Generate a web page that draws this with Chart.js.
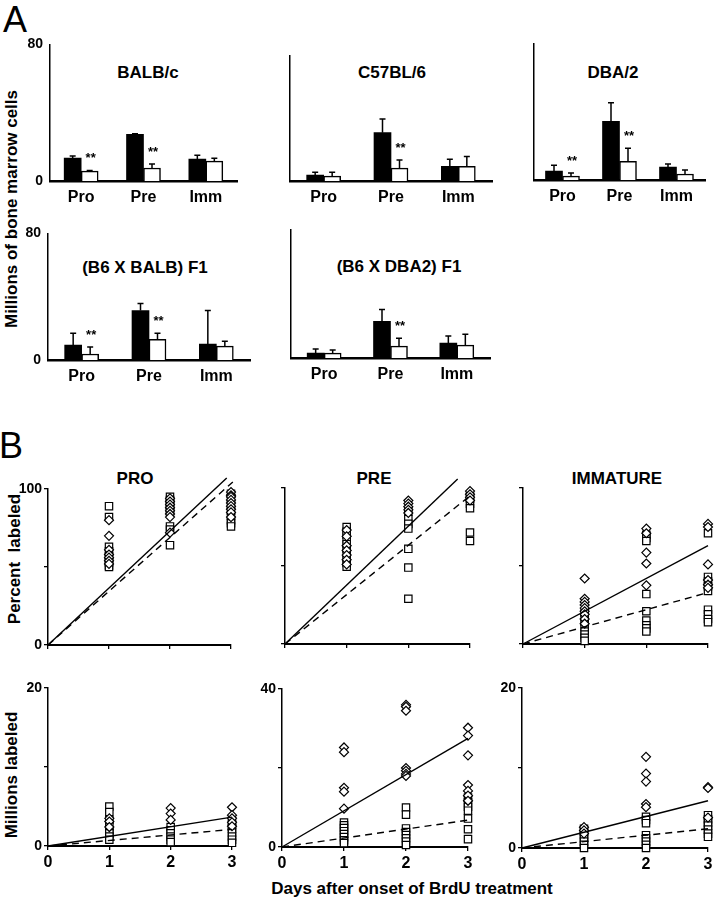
<!DOCTYPE html>
<html>
<head>
<meta charset="utf-8">
<script src="https://cdn.jsdelivr.net/npm/chart.js@4"></script>
<style>
body { margin:0; background:#fff; width:714px; height:900px; position:relative; overflow:hidden; font-family: Arial, "Liberation Sans", sans-serif; color:#000; }
canvas { position:absolute; }
.t { position:absolute; font-weight:bold; font-size:17px; line-height:1; white-space:nowrap; transform:translate(-50%,-50%); }
.vt { position:absolute; font-weight:bold; font-size:17px; line-height:1; white-space:nowrap; transform:translate(-50%,-50%) rotate(-90deg); }
.big { position:absolute; font-size:36px; line-height:1; }
</style>
</head>
<body>
<div class="big" style="left:3px;top:2px">A</div>
<div class="big" style="left:-1px;top:428px">B</div>

<div class="vt" style="left:11px;top:209px">Millions of bone marrow cells</div>
<div class="vt" style="left:14px;top:559px">Percent&nbsp; labeled</div>
<div class="vt" style="left:11px;top:775px">Millions labeled</div>
<div class="t" style="left:412px;top:888px">Days after onset of BrdU treatment</div>

<div class="t" style="left:148px;top:72px">BALB/c</div>
<div class="t" style="left:392px;top:72px">C57BL/6</div>
<div class="t" style="left:613px;top:72px">DBA/2</div>
<div class="t" style="left:145px;top:267px">(B6 X BALB) F1</div>
<div class="t" style="left:399px;top:266px">(B6 X DBA2) F1</div>
<div class="t" style="left:135px;top:478px">PRO</div>
<div class="t" style="left:374px;top:478px">PRE</div>
<div class="t" style="left:617px;top:478px">IMMATURE</div>

<canvas id="a1"></canvas>
<canvas id="a2"></canvas>
<canvas id="a3"></canvas>
<canvas id="a4"></canvas>
<canvas id="a5"></canvas>
<canvas id="b1"></canvas>
<canvas id="b2"></canvas>
<canvas id="b3"></canvas>
<canvas id="b4"></canvas>
<canvas id="b5"></canvas>
<canvas id="b6"></canvas>

<script>
// ---- panel A: millions of cells, black = first group, white = second group
const stages = ['Pro', 'Pre', 'Imm'];

const balbBlack = [13.4, 27.3, 12.8];
const balbBlackErr = [1.2, 0.3, 2.3];
const balbWhite = [5.8, 7.6, 11.6];
const balbWhiteErr = [0.4, 2.3, 1.7];
const balbStars = [0, 1];

const c57Black = [3.5, 28.5, 8.7];
const c57BlackErr = [1.7, 8.1, 4.1];
const c57White = [2.9, 7.6, 8.7];
const c57WhiteErr = [2.3, 4.7, 5.8];
const c57Stars = [1];

const dbaBlack = [5.2, 34.3, 7.6];
const dbaBlackErr = [3.5, 11, 1.7];
const dbaWhite = [2.3, 11, 3.5];
const dbaWhiteErr = [1.8, 7.6, 2.3];
const dbaStars = [0, 1];

const f1BalbBlack = [9.4, 31.3, 10];
const f1BalbBlackErr = [7.5, 4.4, 21.3];
const f1BalbWhite = [3.8, 13.1, 8.8];
const f1BalbWhiteErr = [4.4, 3.8, 3.1];
const f1BalbStars = [0, 1];

const f1DbaBlack = [3.1, 23.1, 9.4];
const f1DbaBlackErr = [2.5, 7.5, 4.4];
const f1DbaWhite = [3.1, 7.5, 8.1];
const f1DbaWhiteErr = [1.9, 5, 6.9];
const f1DbaStars = [1];

// ---- panel B: values per day (day 1, day 2, day 3), diamonds and squares
const days = [0, 1, 2, 3];

const proPctDia = [[80, 70, 61, 58, 56, 54, 52], [94, 92, 90, 88, 86, 84, 82, 72], [98, 96, 95, 93, 91, 89, 87, 85, 82]];
const proPctSq = [[89, 82, 63, 60, 57, 55, 53, 51, 50], [95, 93, 91, 89, 87, 85, 76, 74, 64], [97, 94, 90, 86, 83, 80, 78, 76]];
const proPctSolid = [2.93, 107];
const proPctDash = [3.03, 104.5];

const prePctDia = [[73, 69, 63, 60, 57, 54, 51], [92, 90, 88, 86, 84], [98, 96, 94, 92]];
const prePctSq = [[75, 72, 70, 67, 64, 61, 58, 55, 52, 49.5], [85, 80, 77, 74, 61, 49, 29], [95, 93, 90, 87, 71.5, 66]];
const prePctSolid = [2.8, 105.7];
const prePctDash = [3, 95];

const immPctDia = [[42, 29, 27, 25, 23, 21, 19, 16, 13], [74, 71, 58.6, 51.6, 37.6], [77, 75, 51, 41, 38, 36]];
const immPctSq = [[20, 17, 14, 11, 8, 6, 4, 2], [70, 68, 66, 32, 21, 15, 12, 10, 8], [71, 43, 40, 37, 34, 22, 19, 16, 14]];
const immPctSolid = [3, 63];
const immPctDash = [3, 33];

const proMilDia = [[3.5, 3.1, 2.4], [4.8, 4.1, 3.3], [4.9, 3.9, 3.5, 3.0, 2.5]];
const proMilSq = [[5.0, 4.3, 3.3, 2.5, 2.0, 1.6, 1.2, 0.8], [2.4, 2.0, 1.6, 1.2, 0.8, 0.5], [3.2, 2.7, 2.2, 1.7, 1.2, 0.8, 0.4]];
const proMilSolid = [3, 3.65];
const proMilDash = [3, 2.1];

const preMilDia = [[25.2, 24, 15, 14, 9.7], [36, 35.5, 34.5, 20, 19.3, 18.5, 18], [30.2, 28.2, 23.2, 15.7, 14.2, 13, 11.7]];
const preMilSq = [[6.2, 5.5, 4.8, 4, 3.3, 2.5, 1.7, 1], [10, 8.2, 4.7, 3.8, 3, 2.2, 1.4, 0.5], [12.5, 11.3, 10.2, 9.2, 7.2, 4.5, 2]];
const preMilSolid = [3, 27.5];
const preMilDash = [3, 6.8];

const immMilDia = [[2.6, 2.2, 1.8], [11.4, 9.3, 8.3, 5.5, 5.1], [7.6, 7.5, 3.8]];
const immMilSq = [[2.4, 2.0, 1.6, 1.2, 0.8, 0.4, 0], [3.9, 3.5, 3.1, 1.6, 1.2, 0.8, 0.4, 0], [4.1, 3.6, 3.2, 2.8, 2.3, 1.8, 1.4]];
const immMilSolid = [3, 5.9];
const immMilDash = [3, 2.4];

Chart.defaults.font.family = 'Arial, "Liberation Sans", sans-serif';
Chart.defaults.color = '#000';

const Y_W = 46, X_H = 30, PAD_T = 14, PAD_R = 12;

// error bars, upward only, drawn from each bar top
const errorBars = {
  id: 'errorBars',
  afterDatasetsDraw(chart) {
    const ctx = chart.ctx, y = chart.scales.y;
    chart.data.datasets.forEach((ds, i) => {
      if (!ds.errors) return;
      chart.getDatasetMeta(i).data.forEach((bar, j) => {
        const top = y.getPixelForValue(ds.data[j] + ds.errors[j]);
        ctx.save();
        ctx.strokeStyle = '#000';
        ctx.lineWidth = 1.5;
        ctx.beginPath();
        ctx.moveTo(bar.x, bar.y);
        ctx.lineTo(bar.x, top);
        ctx.moveTo(bar.x - 3, top);
        ctx.lineTo(bar.x + 3, top);
        ctx.stroke();
        ctx.restore();
      });
    });
  }
};

// "**" over the white bars
const stars = {
  id: 'stars',
  afterDatasetsDraw(chart) {
    const ctx = chart.ctx, y = chart.scales.y;
    chart.data.datasets.forEach((ds, i) => {
      if (!ds.stars) return;
      const meta = chart.getDatasetMeta(i);
      ctx.save();
      ctx.font = 'bold 13px Arial, "Liberation Sans", sans-serif';
      ctx.textAlign = 'center';
      ctx.textBaseline = 'alphabetic';
      ctx.fillStyle = '#000';
      ds.stars.forEach(j => {
        const top = y.getPixelForValue(ds.data[j] + ds.errors[j]);
        ctx.fillText('**', meta.data[j].x + 1, top - 8);
      });
      ctx.restore();
    });
  }
};

function place(canvas, chart, box) {
  canvas.style.left = (box.x - chart.chartArea.left) + 'px';
  canvas.style.top = (box.y - chart.chartArea.top) + 'px';
}

function barChart(id, box, max, showY, black, blackErr, white, whiteErr, starIdx) {
  const canvas = document.getElementById(id);
  canvas.width = Y_W + box.w + PAD_R;
  canvas.height = PAD_T + box.h + X_H;
  const chart = new Chart(canvas, {
    type: 'bar',
    data: {
      labels: stages,
      datasets: [
        { data: black, errors: blackErr, backgroundColor: '#000', borderWidth: 0, barThickness: 17 },
        { data: white, errors: whiteErr, stars: starIdx, backgroundColor: '#fff', borderColor: '#000', borderWidth: 1.5, barThickness: 17 }
      ]
    },
    options: {
      responsive: false,
      animation: false,
      layout: { padding: { top: PAD_T, right: PAD_R, left: 0, bottom: 0 } },
      plugins: { legend: { display: false }, tooltip: { enabled: false } },
      scales: {
        x: {
          grid: { display: false, drawTicks: false },
          border: { color: '#000', width: 2.5 },
          ticks: { font: { size: 16, weight: 'bold' }, padding: 7 },
          afterFit: s => { s.height = X_H; }
        },
        y: {
          min: 0, max: max,
          grid: { display: false, drawTicks: false },
          border: { color: '#000', width: 1.5 },
          ticks: { stepSize: max, font: { size: 14, weight: 'bold' }, padding: 7,
                   callback: v => showY ? v : '' },
          afterFit: s => { s.width = Y_W; }
        }
      }
    },
    plugins: [errorBars, stars]
  });
  place(canvas, chart, box);
}

function toPoints(perDay) {
  const out = [];
  perDay.forEach((vals, i) => vals.forEach(v => out.push({ x: days[i + 1], y: v })));
  return out;
}

function dotChart(id, box, max, showY, showX, dia, sq, solid, dash) {
  const canvas = document.getElementById(id);
  canvas.width = Y_W + box.w + PAD_R;
  canvas.height = PAD_T + box.h + X_H;
  const tickGrid = { display: true, drawOnChartArea: false, drawTicks: true, tickLength: 4, color: '#000', lineWidth: 1.3 };
  const chart = new Chart(canvas, {
    type: 'scatter',
    data: {
      datasets: [
        { data: [{ x: 0, y: 0 }, { x: solid[0], y: solid[1] }], showLine: true, borderColor: '#000', borderWidth: 1.4, pointRadius: 0, clip: false },
        { data: [{ x: 0, y: 0 }, { x: dash[0], y: dash[1] }], showLine: true, borderColor: '#000', borderWidth: 1.4, borderDash: [7, 5], pointRadius: 0, clip: false },
        { data: toPoints(dia), pointStyle: 'rectRot', pointRadius: 4.5, backgroundColor: '#fff', borderColor: '#000', borderWidth: 1.2, clip: false },
        { data: toPoints(sq), pointStyle: 'rect', pointRadius: 5.2, backgroundColor: '#fff', borderColor: '#000', borderWidth: 1.2, clip: false }
      ]
    },
    options: {
      responsive: false,
      animation: false,
      layout: { padding: { top: PAD_T, right: PAD_R, left: 0, bottom: 0 } },
      plugins: { legend: { display: false }, tooltip: { enabled: false } },
      scales: {
        x: {
          type: 'linear', min: 0, max: 3,
          grid: tickGrid,
          border: { color: '#000', width: 2 },
          ticks: { stepSize: 1, font: { size: 16, weight: 'bold' }, padding: 3,
                   callback: v => showX ? v : '' },
          afterFit: s => { s.height = X_H; }
        },
        y: {
          min: 0, max: max,
          grid: tickGrid,
          border: { color: '#000', width: 1.5 },
          ticks: { stepSize: max / 2, font: { size: 14, weight: 'bold' }, padding: 2,
                   callback: v => (showY && (v === 0 || v === max)) ? v : '' },
          afterFit: s => { s.width = Y_W; }
        }
      }
    }
  });
  place(canvas, chart, box);
}

barChart('a1', { x: 50, y: 44, w: 187, h: 138 }, 80, true, balbBlack, balbBlackErr, balbWhite, balbWhiteErr, balbStars);
barChart('a2', { x: 290, y: 55, w: 202, h: 127 }, 74, false, c57Black, c57BlackErr, c57White, c57WhiteErr, c57Stars);
barChart('a3', { x: 534, y: 43, w: 171, h: 138 }, 80, false, dbaBlack, dbaBlackErr, dbaWhite, dbaWhiteErr, dbaStars);
barChart('a4', { x: 48, y: 233, w: 202, h: 128 }, 80, true, f1BalbBlack, f1BalbBlackErr, f1BalbWhite, f1BalbWhiteErr, f1BalbStars);
barChart('a5', { x: 291, y: 229, w: 199, h: 130 }, 81, false, f1DbaBlack, f1DbaBlackErr, f1DbaWhite, f1DbaWhiteErr, f1DbaStars);

dotChart('b1', { x: 48, y: 489, w: 183, h: 156 }, 100, true, false, proPctDia, proPctSq, proPctSolid, proPctDash);
dotChart('b2', { x: 285, y: 488, w: 185, h: 156 }, 100, false, false, prePctDia, prePctSq, prePctSolid, prePctDash);
dotChart('b3', { x: 523, y: 488, w: 185, h: 156 }, 100, false, false, immPctDia, immPctSq, immPctSolid, immPctDash);
dotChart('b4', { x: 48, y: 688, w: 184, h: 158 }, 20, true, true, proMilDia, proMilSq, proMilSolid, proMilDash);
dotChart('b5', { x: 282, y: 689, w: 186, h: 158 }, 40, true, true, preMilDia, preMilSq, preMilSolid, preMilDash);
dotChart('b6', { x: 522, y: 688, w: 186, h: 160 }, 20, true, true, immMilDia, immMilSq, immMilSolid, immMilDash);
</script>
</body>
</html>
